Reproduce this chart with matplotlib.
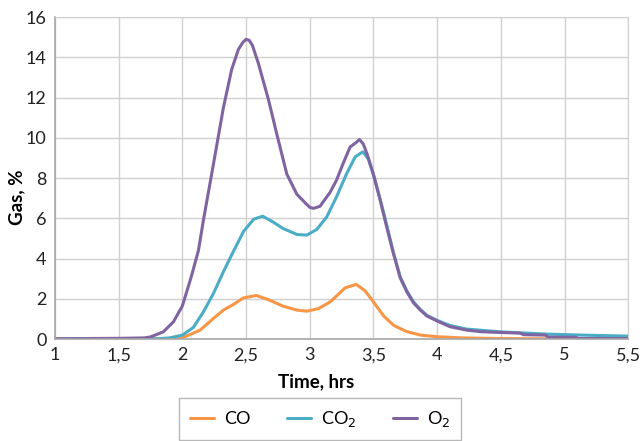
import matplotlib
matplotlib.use("Agg")
import matplotlib.pyplot as plt

plt.rcParams['font.family'] = ['Lato', 'DejaVu Sans']

# data (time in hrs, gas in %)
t_o2 = [1.0, 1.5, 1.7, 1.75, 1.85, 1.93, 2.0, 2.07, 2.126, 2.165, 2.244, 2.322, 2.387,
        2.44, 2.475, 2.5, 2.525, 2.55, 2.597, 2.676, 2.741, 2.82, 2.899, 2.96, 3.0, 3.03,
        3.08, 3.16, 3.21, 3.26, 3.317, 3.36, 3.39, 3.42, 3.45, 3.5, 3.553, 3.605, 3.657,
        3.71, 3.762, 3.815, 3.867, 3.92, 4.0, 4.1, 4.23, 4.34, 4.5, 4.65, 4.68, 4.85,
        4.87, 5.09, 5.11, 5.5]
o2 = [0.02, 0.04, 0.06, 0.11, 0.36, 0.86, 1.65, 3.1, 4.4, 5.9, 8.7, 11.5, 13.4,
      14.4, 14.75, 14.9, 14.85, 14.6, 13.7, 11.9, 10.2, 8.2, 7.2, 6.8, 6.55, 6.5,
      6.6, 7.3, 7.9, 8.7, 9.55, 9.75, 9.92, 9.7, 9.2, 8.2, 6.9, 5.55, 4.25,
      3.05, 2.35, 1.8, 1.45, 1.15, 0.9, 0.62, 0.45, 0.37, 0.33, 0.3, 0.22, 0.2,
      0.1, 0.09, 0.03, 0.03]

t_co2 = [1.0, 1.8, 1.9, 2.0, 2.086, 2.165, 2.244, 2.322, 2.40, 2.48, 2.56, 2.63, 2.71,
         2.79, 2.90, 2.977, 3.055, 3.134, 3.21, 3.29, 3.357, 3.417, 3.46, 3.5, 3.553,
         3.605, 3.657, 3.71, 3.762, 3.815, 3.867, 3.92, 4.0, 4.1, 4.23, 4.5, 4.86, 5.2,
         5.5]
co2 = [0.0, 0.02, 0.06, 0.2, 0.58, 1.35, 2.27, 3.35, 4.35, 5.35, 5.96, 6.11, 5.83,
       5.5, 5.2, 5.17, 5.45, 6.08, 7.07, 8.23, 9.06, 9.31, 8.95, 8.15, 6.95,
       5.65, 4.3, 3.1, 2.4, 1.85, 1.48, 1.18, 0.93, 0.68, 0.5, 0.36, 0.25, 0.19,
       0.15]

t_co = [1.0, 1.9, 2.0, 2.087, 2.14, 2.244, 2.322, 2.40, 2.48, 2.58, 2.68, 2.79, 2.90,
        2.98, 3.07, 3.16, 3.22, 3.278, 3.365, 3.435, 3.5, 3.58, 3.66, 3.76, 3.87, 4.0,
        4.2, 4.5, 5.0, 5.5]
co = [0.0, 0.01, 0.07, 0.3, 0.45, 1.03, 1.44, 1.72, 2.05, 2.17, 1.95, 1.64, 1.44,
      1.39, 1.52, 1.85, 2.2, 2.55, 2.72, 2.4, 1.85, 1.15, 0.68, 0.38, 0.2, 0.12,
      0.06, 0.03, 0.01, 0.0]

x_ticks = [1, 1.5, 2, 2.5, 3, 3.5, 4, 4.5, 5, 5.5]
x_labels = ['1', '1,5', '2', '2,5', '3', '3,5', '4', '4,5', '5', '5,5']
y_ticks = [0, 2, 4, 6, 8, 10, 12, 14, 16]

fig = plt.figure(figsize=(6.43, 4.41), dpi=100)
ax = fig.add_axes([0.0855, 0.231, 0.8915, 0.730])

line_kw = dict(lw=2.2, solid_joinstyle='round', solid_capstyle='round')
ax.plot(t_co, co, color='#F79646', label='CO', **line_kw)
ax.plot(t_co2, co2, color='#4BACC6', label='CO$_2$', **line_kw)
ax.plot(t_o2, o2, color='#8064A2', label='O$_2$', **line_kw)

ax.set_xlim(1, 5.5)
ax.set_ylim(0, 16)
ax.set_xticks(x_ticks)
ax.set_xticklabels(x_labels)
ax.set_yticks(y_ticks)
ax.tick_params(labelsize=13, length=0, colors='#222222', pad=6)
ax.grid(True, color='#D0D0D0', lw=1)
ax.set_axisbelow(True)
for s in ['top', 'right']:
    ax.spines[s].set_color('#D0D0D0')
for s in ['left', 'bottom']:
    ax.spines[s].set_color('#A6A6A6')
    ax.spines[s].set_linewidth(1.2)

ax.set_xlabel('Time, hrs', fontsize=13.5, fontweight='bold')
ax.set_ylabel('Gas, %', fontsize=13.5, fontweight='bold')
ax.xaxis.set_label_coords(0.456, -0.106)
ax.yaxis.set_label_coords(-0.051, 0.44)

leg = fig.legend(loc='lower center', bbox_to_anchor=(0.4977, 0.003), ncol=3, fontsize=13,
                 frameon=True, fancybox=False, edgecolor='#A6A6A6', handlelength=1.35,
                 handletextpad=0.55, columnspacing=2.0, borderpad=0.6, borderaxespad=0)
leg.get_frame().set_linewidth(1.0)

fig.savefig('out.png', dpi=100)
